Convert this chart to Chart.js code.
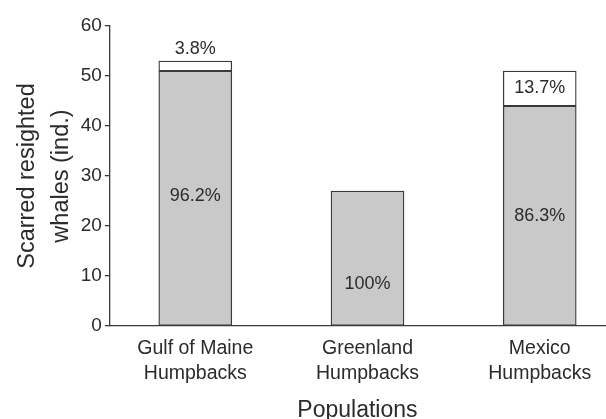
<!DOCTYPE html>
<html>
<head>
<meta charset="utf-8">
<script src="https://cdn.jsdelivr.net/npm/chart.js@4.4.1/dist/chart.umd.min.js"></script>
<style>
  html, body { margin: 0; padding: 0; background: #fff; }
  #wrap { width: 606px; height: 419px; }
</style>
</head>
<body>
<div id="wrap"><canvas id="chart"></canvas></div>
<script>
// populations and counts of scarred resighted whales
const populations = [['Gulf of Maine', 'Humpbacks'], ['Greenland', 'Humpbacks'], ['Mexico', 'Humpbacks']];
const scarredMain = [51, 27, 44];
const scarredRest = [2, null, 7];
const pctMain = ['96.2%', '100%', '86.3%'];
const pctRest = ['3.8%', '', '13.7%'];
const yTicks = [0, 10, 20, 30, 40, 50, 60];

const ink = '#2b2b2b';
const fontFam = '"Liberation Sans", Arial, sans-serif';

// labels written on the bars
const barLabels = {
  id: 'barLabels',
  afterDatasetsDraw(chart, args, opts) {
    const ctx = chart.ctx;
    ctx.save();
    ctx.fillStyle = ink;
    ctx.font = '18px ' + fontFam;
    ctx.textAlign = 'center';
    ctx.textBaseline = 'middle';
    [pctMain, pctRest].forEach((txts, di) => {
      chart.getDatasetMeta(di).data.forEach((bar, i) => {
        if (!txts[i]) return;
        const top = Math.min(bar.y, bar.base);
        const h = Math.abs(bar.base - bar.y);
        let y = top + h / 2;
        if (h < 20) y = top - 12;
        y += (opts.shift[di] || [])[i] || 0;
        ctx.fillText(txts[i], bar.x, y);
      });
    });
    ctx.restore();
  }
};

const toPts = arr => arr.map((v, i) => ({ x: i, y: v }));

new Chart(document.getElementById('chart'), {
  type: 'bar',
  data: {
    datasets: [
      { data: toPts(scarredMain), backgroundColor: '#c9c9c9', borderColor: '#3a3a3a', borderWidth: 1.3, borderSkipped: false, barThickness: 73 },
      { data: toPts(scarredRest), backgroundColor: '#ffffff', borderColor: '#3a3a3a', borderWidth: 1.3, borderSkipped: false, barThickness: 73 }
    ]
  },
  plugins: [barLabels],
  options: {
    responsive: true,
    maintainAspectRatio: false,
    animation: false,
    layout: { padding: { top: 26, right: 1, left: 6, bottom: 0 } },
    plugins: {
      legend: { display: false },
      tooltip: { enabled: false },
      barLabels: { shift: [[-2, 26, 0], [0, 0, 0]] }
    },
    scales: {
      x: {
        type: 'linear',
        stacked: true,
        offset: false,
        min: -0.496,
        max: 2.379,
        afterBuildTicks: axis => { axis.ticks = populations.map((_, i) => ({ value: i })); },
        ticks: {
          callback: v => populations[v],
          color: ink,
          font: { family: fontFam, size: 19.5, lineHeight: 1.28 },
          padding: 2,
          maxRotation: 0,
          autoSkip: false
        },
        grid: { display: false },
        border: { color: '#3a3a3a', width: 1.3 },
        title: {
          display: true,
          text: 'Populations',
          color: ink,
          font: { family: fontFam, size: 23, lineHeight: 0.74 },
          padding: { top: 14, bottom: 0 }
        }
      },
      y: {
        stacked: true,
        min: 0,
        max: 60,
        afterBuildTicks: axis => { axis.ticks = yTicks.map(v => ({ value: v })); },
        ticks: {
          color: ink,
          font: { family: fontFam, size: 19 },
          padding: 3
        },
        grid: { drawOnChartArea: false, tickLength: 5, color: '#3a3a3a', lineWidth: 1.3 },
        border: { color: '#3a3a3a', width: 1.3 },
        title: {
          display: true,
          text: ['Scarred resighted', 'whales (ind.)'],
          color: ink,
          font: { family: fontFam, size: 23.5, lineHeight: 1.42 },
          padding: { top: 5, bottom: 0 }
        }
      }
    }
  }
});
</script>
</body>
</html>
